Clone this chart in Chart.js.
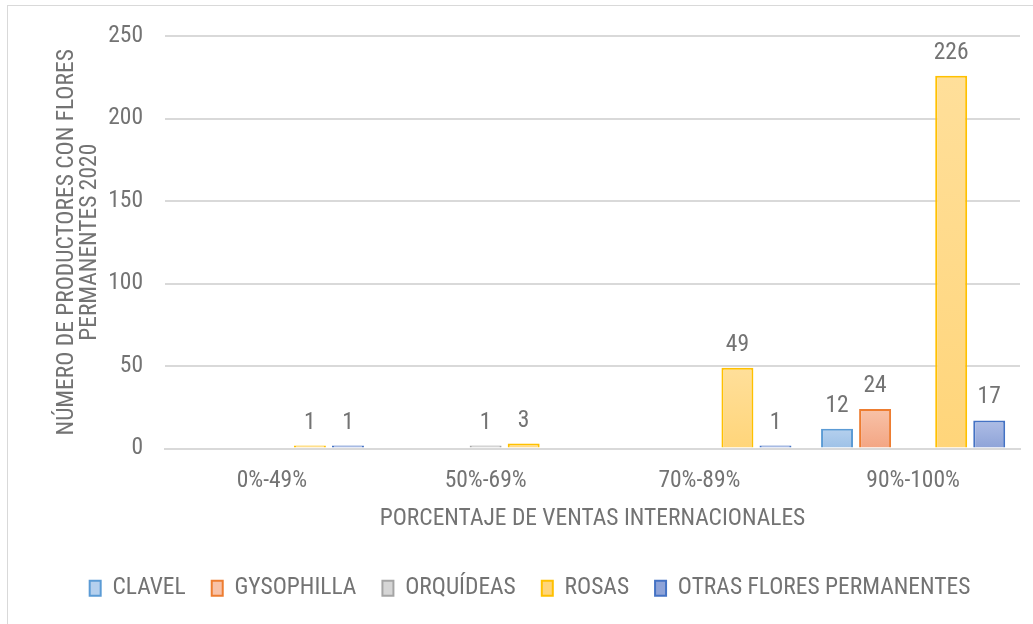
<!DOCTYPE html>
<html>
<head>
<meta charset="utf-8">
<script src="https://cdn.jsdelivr.net/npm/chart.js@4"></script>
<style>
  html, body { margin: 0; padding: 0; background: #fff; }
  #wrap { position: relative; width: 1033px; height: 624px; }
  #frame { position: absolute; left: 7px; top: 5px; width: 1040px; height: 640px; border: 1px solid #d9d9d9; box-sizing: border-box; }
  canvas { position: absolute; left: 0; top: 0; }
</style>
</head>
<body>
<div id="wrap">
  <div id="frame"></div>
  <canvas id="chart" width="1033" height="624"></canvas>
</div>
<script>
// categories / series (null = no bar)
const categories = ["0%-49%", "50%-69%", "70%-89%", "90%-100%"];
const clavel = [null, null, null, 12];
const gysophilla = [null, null, null, 24];
const orquideas = [null, 1, null, null];
const rosas = [1, 3, 49, 226];
const otras = [1, null, 1, 17];
const yTicks = [0, 50, 100, 150, 200, 250];

const FONT = '"Liberation Sans Narrow", "Roboto Condensed", Roboto, sans-serif';
const SIZE = 23.5;
const GREY = "#737373";

function grad(top, bottom) {
  return function (ctx) {
    const chart = ctx.chart;
    const area = chart.chartArea;
    if (!area || ctx.raw == null) return top;
    const y = chart.scales.y;
    const y0 = y.getPixelForValue(ctx.raw);
    const y1 = y.getPixelForValue(0);
    const g = chart.ctx.createLinearGradient(0, y0, 0, Math.max(y1, y0 + 1));
    g.addColorStop(0, top);
    g.addColorStop(1, bottom);
    return g;
  };
}

const valueLabels = {
  id: "valueLabels",
  afterDatasetsDraw(chart) {
    const c = chart.ctx;
    c.save();
    c.font = SIZE + "px " + FONT;
    c.fillStyle = GREY;
    c.textAlign = "center";
    c.textBaseline = "alphabetic";
    chart.data.datasets.forEach((ds, i) => {
      chart.getDatasetMeta(i).data.forEach((bar, j) => {
        if (ds.data[j] == null) return;
        c.fillText(ds.data[j], bar.x, bar.y - 17);
      });
    });
    c.restore();
  }
};

new Chart(document.getElementById("chart"), {
  type: "bar",
  data: {
    labels: categories,
    datasets: [
      { label: "CLAVEL", data: clavel, backgroundColor: grad("#b5d0ee", "#9dc1e7"), borderColor: "#5b9bd5", borderWidth: 2 },
      { label: "GYSOPHILLA", data: gysophilla, backgroundColor: grad("#f8c2a8", "#f3a583"), borderColor: "#ed7d31", borderWidth: 2 },
      { label: "ORQUÍDEAS", data: orquideas, backgroundColor: grad("#d6d6d6", "#c4c4c4"), borderColor: "#a5a5a5", borderWidth: 2 },
      { label: "ROSAS", data: rosas, backgroundColor: grad("#ffdf9a", "#ffd57a"), borderColor: "#ffc000", borderWidth: 2 },
      { label: "OTRAS FLORES PERMANENTES", data: otras, backgroundColor: grad("#aebde5", "#8ea3d8"), borderColor: "#4472c4", borderWidth: 2 }
    ]
  },
  options: {
    responsive: false,
    animation: false,
    categoryPercentage: 0.89,
    barPercentage: 0.84,
    minBarLength: 3,
    layout: { padding: { left: 40, right: 13, top: 27, bottom: 14 } },
    scales: {
      x: {
        grid: { display: false, drawTicks: false },
        border: { color: "#d9d9d9", width: 2 },
        ticks: { color: GREY, font: { family: FONT, size: SIZE }, padding: 19 },
        title: { display: true, text: "PORCENTAJE DE VENTAS INTERNACIONALES", color: GREY, font: { family: FONT, size: SIZE }, padding: { top: 4, bottom: 17 } },
        afterFit(axis) { axis.height = 102; }
      },
      y: {
        min: 0,
        max: 250,
        afterBuildTicks(axis) { axis.ticks = yTicks.map(v => ({ value: v })); },
        grid: { color: "#d9d9d9", lineWidth: 2, drawTicks: false },
        border: { display: false },
        ticks: { color: GREY, font: { family: FONT, size: SIZE }, padding: 22 },
        title: { display: true, text: ["NÚMERO DE PRODUCTORES CON FLORES", "PERMANENTES 2020"], color: GREY, font: { family: FONT, size: SIZE, lineHeight: 1.0 }, padding: { top: 15, bottom: 0 } },
        afterFit(axis) { axis.width = 125; }
      }
    },
    plugins: {
      legend: {
        position: "bottom",
        labels: { color: GREY, font: { family: FONT, size: SIZE }, boxWidth: 11, boxHeight: 15, padding: 26 }
      },
      tooltip: { enabled: false }
    }
  },
  plugins: [valueLabels]
});
</script>
</body>
</html>
